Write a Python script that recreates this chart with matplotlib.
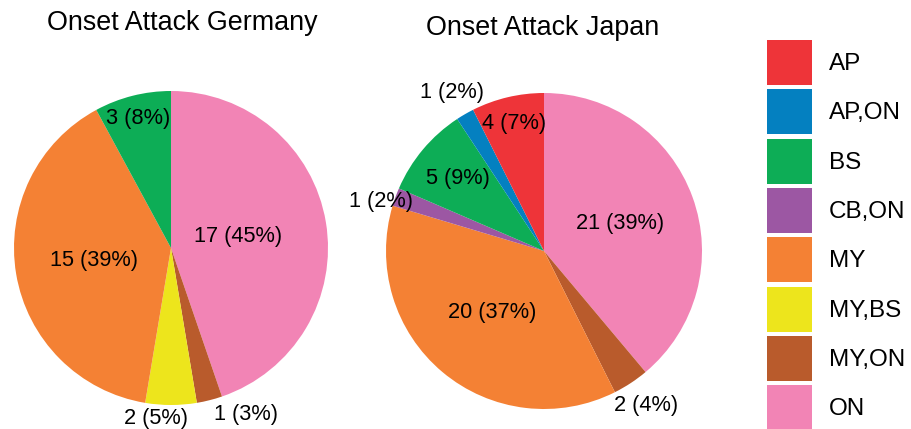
import numpy as np
import matplotlib
matplotlib.use("Agg")
import matplotlib.pyplot as plt
from matplotlib.patches import Patch

plt.rcParams['font.family'] = ['Liberation Sans', 'DejaVu Sans']

# legend order
categories = ["AP", "AP,ON", "BS", "CB,ON", "MY", "MY,BS", "MY,ON", "ON"]
colors = ["#EE3439", "#0480C0", "#0DAD56", "#9C57A3", "#F48134", "#EDE51C", "#B95B2C", "#F284B5"]

# slice order in the pies (clockwise from the top)
germany_cats = ["ON", "MY,ON", "MY,BS", "MY", "BS"]
germany_counts = [17, 1, 2, 15, 3]
japan_cats = ["ON", "MY,ON", "MY", "CB,ON", "BS", "AP,ON", "AP"]
japan_counts = [21, 2, 20, 1, 5, 1, 4]

# label placement: radial distance (fraction of radius) and angle shift (deg)
germany_dist = [0.43, 1.16, 1.09, 0.50, 0.85]
germany_shift = [0, 10, -5, 0, 0]
japan_dist = [0.51, 1.17, 0.51, 1.08, 0.71, 1.16, 0.83]
japan_shift = [0, 0, 0, 3, 0, 0, 0]

color_of = dict(zip(categories, colors))

fig = plt.figure(figsize=(9.12, 4.29), dpi=100)


def draw_pie(ax, cats, counts, dists, shifts):
    total = sum(counts)
    wedges, _ = ax.pie(counts, colors=[color_of[c] for c in cats], startangle=90,
                       counterclock=False, radius=1.0,
                       wedgeprops=dict(linewidth=0))
    for w, n, d, s in zip(wedges, counts, dists, shifts):
        ang = np.deg2rad((w.theta1 + w.theta2) / 2 + s)
        pct = int(round(100 * n / total))
        ax.text(d * np.cos(ang), d * np.sin(ang), "%d (%d%%)" % (n, pct),
                ha="center", va="center", fontsize=15.7)
    ax.set_xlim(-1, 1)
    ax.set_ylim(-1, 1)
    ax.set_aspect("equal")


# Germany: center (171, 248), radius 157 px
ax1 = fig.add_axes([(171 - 157) / 912, (429 - 248 - 157) / 429, 314 / 912, 314 / 429])
draw_pie(ax1, germany_cats, germany_counts, germany_dist, germany_shift)

# Japan: center (544, 251), radius 158 px
ax2 = fig.add_axes([(544 - 158) / 912, (429 - 251 - 158) / 429, 316 / 912, 316 / 429])
draw_pie(ax2, japan_cats, japan_counts, japan_dist, japan_shift)

fig.text(182 / 912, 1 - 23 / 429, "Onset Attack Germany", ha="center", va="center", fontsize=19.4)
fig.text(543 / 912, 1 - 28 / 429, "Onset Attack Japan", ha="center", va="center", fontsize=19.4)

handles = [Patch(facecolor=c, edgecolor="none", label=l) for l, c in zip(categories, colors)]
fig.legend(handles=handles, loc="upper left", bbox_to_anchor=(767 / 912, 1 - 40 / 429),
           frameon=False, fontsize=17.5, handlelength=1.85, handleheight=2.47,
           handletextpad=0.7, labelspacing=0.18, borderpad=0, borderaxespad=0)

fig.savefig("out.png", dpi=100)
